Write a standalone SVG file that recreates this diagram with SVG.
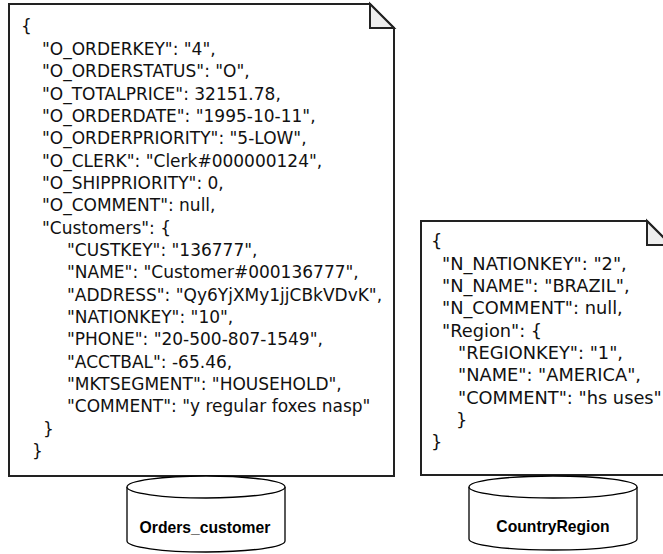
<svg xmlns="http://www.w3.org/2000/svg" width="663" height="554" viewBox="0 0 663 554">
<style>
.doc{fill:#ffffff;stroke:#222222;stroke-width:2;stroke-linejoin:miter}
.fold{fill:#eeeeee;stroke:#222222;stroke-width:2}
.j{font-family:"DejaVu Sans",Verdana,sans-serif;font-size:17px;fill:#111111}
.k{font-family:"DejaVu Sans",Verdana,sans-serif;font-size:17.8px;fill:#111111}
.cyl{fill:#ffffff;stroke:#000000;stroke-width:1.3}
.lbl{font-family:"Liberation Sans",Arial,sans-serif;font-size:15.7px;font-weight:bold;fill:#000000;text-anchor:middle}
</style>
<rect width="663" height="554" fill="#ffffff"/>
<g id="connectors"/>
<g id="orders-doc">
<path class="doc" d="M9,4 H370 L394,28 V476 H9 Z"/>
<path class="fold" d="M370,4 V28 H394 Z"/>
<text class="j" x="21" y="32">{</text>
<text class="j" x="42" y="55">"O_ORDERKEY": "4",</text>
<text class="j" x="42" y="77">"O_ORDERSTATUS": "O",</text>
<text class="j" x="42" y="99.5">"O_TOTALPRICE": 32151.78,</text>
<text class="j" x="42" y="122">"O_ORDERDATE": "1995-10-11",</text>
<text class="j" x="42" y="144">"O_ORDERPRIORITY": "5-LOW",</text>
<text class="j" x="42" y="166.5">"O_CLERK": "Clerk#000000124",</text>
<text class="j" x="42" y="189">"O_SHIPPRIORITY": 0,</text>
<text class="j" x="42" y="211">"O_COMMENT": null,</text>
<text class="j" x="42" y="233.5">"Customers": {</text>
<text class="j" x="67" y="256">"CUSTKEY": "136777",</text>
<text class="j" x="67" y="278">"NAME": "Customer#000136777",</text>
<text class="j" x="67" y="300.5">"ADDRESS": "Qy6YjXMy1jjCBkVDvK",</text>
<text class="j" x="67" y="323">"NATIONKEY": "10",</text>
<text class="j" x="67" y="345">"PHONE": "20-500-807-1549",</text>
<text class="j" x="67" y="367.5">"ACCTBAL": -65.46,</text>
<text class="j" x="67" y="390">"MKTSEGMENT": "HOUSEHOLD",</text>
<text class="j" x="67" y="412">"COMMENT": "y regular foxes nasp"</text>
<text class="j" x="43" y="434.5">}</text>
<text class="j" x="32" y="457">}</text>
</g>
<g id="country-doc">
<path class="doc" d="M421,221 H647 L671,245 V475 H421 Z"/>
<path class="fold" d="M647,221 V245 H671 Z"/>
<text class="k" x="431" y="247">{</text>
<text class="k" x="442" y="269.5">"N_NATIONKEY": "2",</text>
<text class="k" x="442" y="292">"N_NAME": "BRAZIL",</text>
<text class="k" x="442" y="314">"N_COMMENT": null,</text>
<text class="k" x="442" y="336.5">"Region": {</text>
<text class="k" x="458" y="359">"REGIONKEY": "1",</text>
<text class="k" x="458" y="381">"NAME": "AMERICA",</text>
<text class="k" x="458" y="403.5">"COMMENT": "hs uses"</text>
<text class="k" x="456" y="426">}</text>
<text class="k" x="431" y="448">}</text>
</g>
<g id="orders-customer">
<path class="cyl" d="M127,487 A79,11 0 0,1 285,487 V541 A79,11 0 0,1 127,541 Z"/>
<path class="cyl" fill="none" d="M127,487 A79,11 0 0,0 285,487"/>
<text class="lbl" x="205" y="533">Orders_customer</text>
</g>
<g id="country-region">
<path class="cyl" d="M469,487 A84,11 0 0,1 637,487 V539 A84,11 0 0,1 469,539 Z"/>
<path class="cyl" fill="none" d="M469,487 A84,11 0 0,0 637,487"/>
<text class="lbl" x="553" y="532">CountryRegion</text>
</g>
</svg>
